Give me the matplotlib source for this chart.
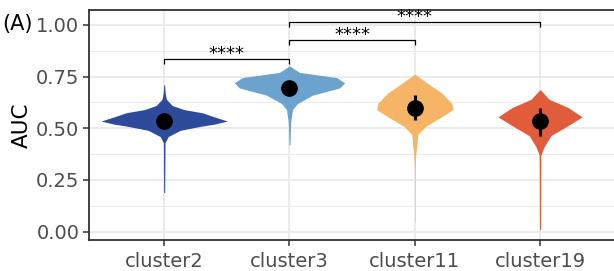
import numpy as np
import matplotlib.pyplot as plt

plt.rcParams['font.family'] = ['DejaVu Sans']

clusters = ["cluster2", "cluster3", "cluster11", "cluster19"]
colors = ["#2E4A9B", "#6BA3CE", "#F5B466", "#E05C3A"]

# violin outlines: AUC value -> half width (pixels)
prof_v = [
    [0.19, 0.43, 0.46, 0.49, 0.51, 0.52, 0.535, 0.555, 0.575, 0.59, 0.61, 0.64, 0.67, 0.71],
    [0.42, 0.53, 0.59, 0.62, 0.66, 0.695, 0.72, 0.745, 0.77, 0.80],
    [0.05, 0.30, 0.36, 0.47, 0.51, 0.55, 0.59, 0.62, 0.67, 0.72, 0.76],
    [0.01, 0.37, 0.41, 0.465, 0.51, 0.555, 0.60, 0.64, 0.685],
]
prof_w = [
    [0.5, 0.8, 4, 16, 37, 50, 63, 50, 38, 20, 8, 2.2, 1.0, 0.4],
    [0.5, 1.2, 3, 8, 23, 50, 55, 47, 10, 0.5],
    [0.2, 0.3, 0.8, 3, 11, 25, 38, 37, 27, 12, 0.5],
    [0.5, 0.8, 4, 11, 27, 42, 28, 9, 0.5],
]

means = [0.535, 0.695, 0.60, 0.535]
err_lo = [0.52, 0.68, 0.54, 0.465]
err_hi = [0.55, 0.71, 0.66, 0.60]

# significance brackets (from, to, height)
comparisons = [(1, 2, 0.836), (2, 3, 0.928), (2, 4, 1.014)]
labels = ["****", "****", "****"]

fig = plt.figure(figsize=(6.14, 2.71), dpi=100)
ax = fig.add_axes([0.145, 0.1144, 0.857, 0.849])

xs = np.arange(1, len(clusters) + 1)
px_per_unit = 125.0

for i in range(len(clusters)):
    v = np.array(prof_v[i])
    w = np.array(prof_w[i]) / px_per_unit
    ax.fill_betweenx(v, xs[i] - w, xs[i] + w, color=colors[i], lw=0, zorder=3)

ax.vlines(xs, err_lo, err_hi, color="black", lw=2.2, zorder=4)
ax.plot(xs, means, "o", color="black", ms=11, zorder=5)

tick_h = 0.025
for (a, b, h), lab in zip(comparisons, labels):
    ax.plot([a, a, b, b], [h - tick_h, h, h, h - tick_h], color="black", lw=0.9,
            zorder=6, solid_capstyle="butt")
    ax.text((a + b) / 2, h - 0.022, lab, ha="center", va="bottom", fontsize=13,
            color="black", zorder=6)

ax.set_xlim(0.4, 4.6)
ax.set_ylim(-0.04, 1.072)
ax.set_xticks(xs)
ax.set_xticklabels(clusters)
ax.set_yticks([0, 0.25, 0.5, 0.75, 1.0])
ax.set_yticklabels(["0.00", "0.25", "0.50", "0.75", "1.00"])
ax.set_yticks([0.125, 0.375, 0.625, 0.875], minor=True)

ax.grid(True, which="major", color="#EBEBEB", lw=1.4, zorder=0)
ax.grid(True, which="minor", axis="y", color="#EBEBEB", lw=0.8, zorder=0)
ax.set_axisbelow(True)

for s in ax.spines.values():
    s.set_color("#333333")
    s.set_linewidth(1.3)
ax.spines["right"].set_visible(False)

ax.tick_params(axis="both", which="major", colors="#333333", length=4, width=1.1,
               labelcolor="#4D4D4D", labelsize=14, pad=3)
ax.tick_params(axis="x", which="major", pad=5)
ax.tick_params(axis="y", which="minor", length=0)

ax.set_ylabel("AUC", fontsize=15.5, color="black", labelpad=3)
fig.text(0.003, 0.91, "(A)", fontsize=15, color="black", va="center", ha="left")

fig.savefig("out.png", dpi=100)
